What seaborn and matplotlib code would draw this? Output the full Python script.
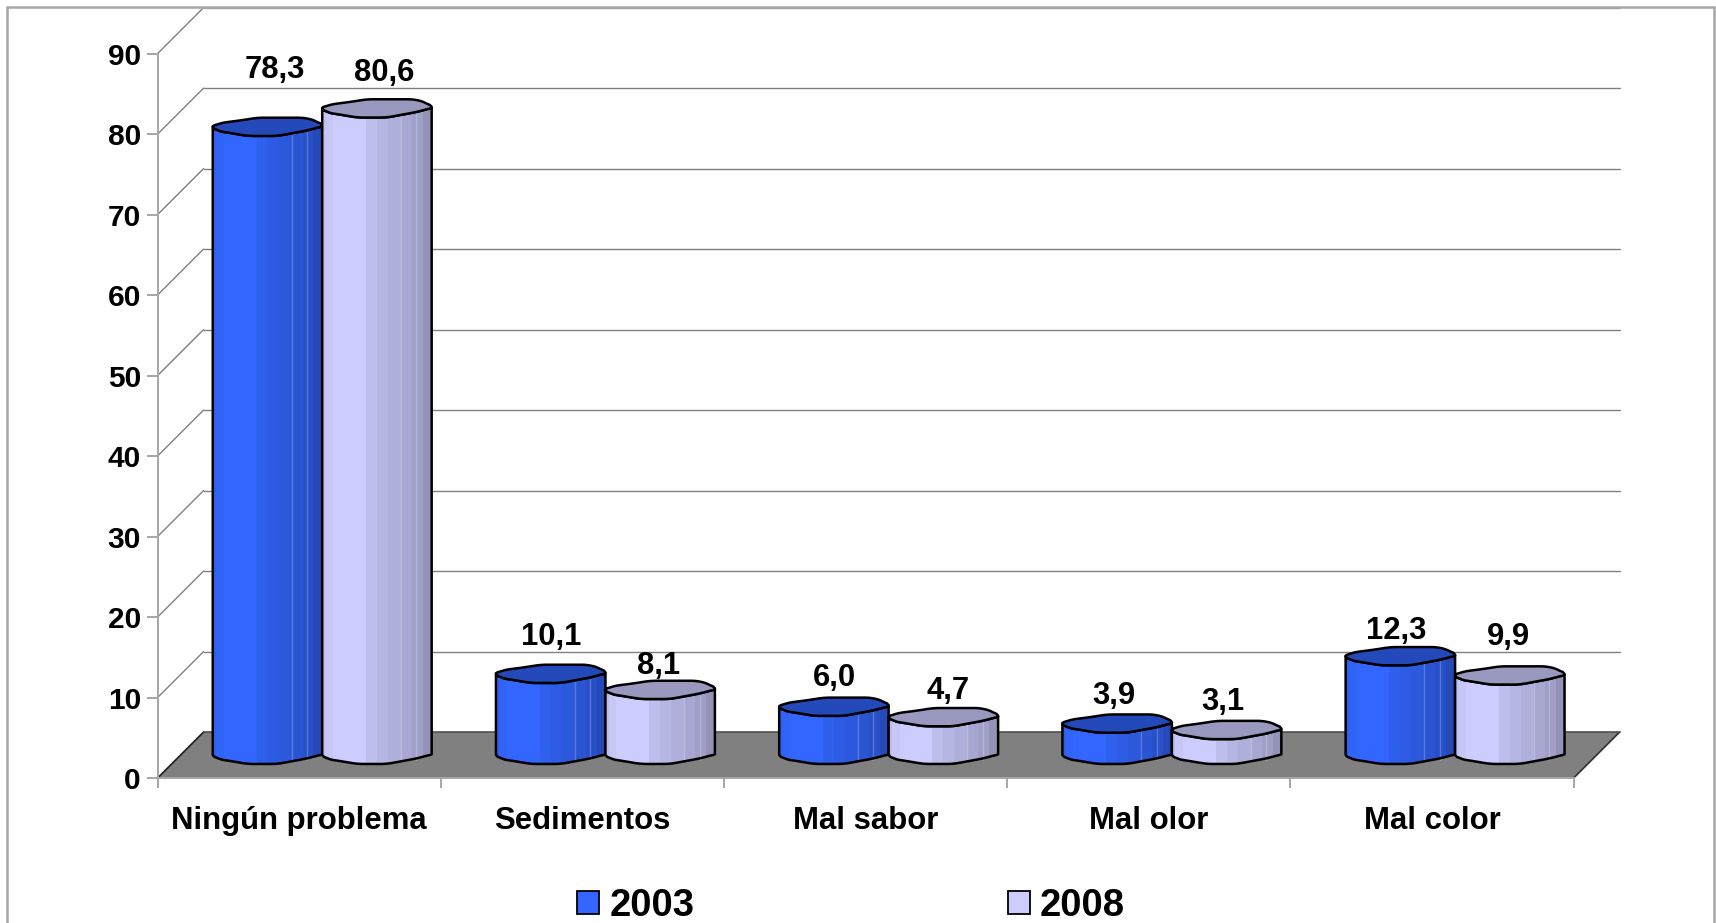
import numpy as np
import pandas as pd
import matplotlib
matplotlib.use("Agg")
import matplotlib.pyplot as plt
from matplotlib.patches import Patch, PathPatch, Polygon, Rectangle
from matplotlib.path import Path
from matplotlib.colors import to_rgb
import seaborn as sns

# ---- data ----
categories = ["Ningún problema", "Sedimentos", "Mal sabor", "Mal olor", "Mal color"]
values_2003 = [78.3, 10.1, 6.0, 3.9, 12.3]
values_2008 = [80.6, 8.1, 4.7, 3.1, 9.9]
series_names = ["2003", "2008"]
y_ticks = [0, 10, 20, 30, 40, 50, 60, 70, 80, 90]

# ---- styles ----
COL = {"2003": "#3366FF", "2008": "#CCCCFF"}
TOP = {"2003": "#2449BA", "2008": "#9999BF"}
# label offsets from each bar top centre, pixels (dx, dy)
label_dx = {"2003": [7, 0, 1, -3, -4], "2008": [7, -2, 5, -4, -1]}
label_dy = {"2003": [57, 37, 29, 28, 25], "2008": [36, 24, 26, 28, 39]}
# cylinder rim shape: fraction of width, pixel offset from centre line
rim_front_u = np.array([0, .04, .16, .32, .59, .87, 1.0])
rim_front_v = np.array([0, -4, -6, -9, -9, -3.3, .7])
rim_back_u = np.array([0, .07, .26, .41, .84, .95, 1.0])
rim_back_v = np.array([.7, 4, 6.7, 9.3, 9.3, 6, 1.7])
band_edges = np.array([0, .03, .1, .4, .5, .6, .72, .82, .92, 1.0])
band_shade = np.array([.93, .97, 1.0, .93, .89, .86, .82, .78, .72])

W, H, DPI = 1716, 923, 100
L, R, Y0, Y90 = 157.6, 1573.7, 778.0, 53.6
DEPTH = 46.0
GREY = "#808080"

sns.set_theme(style="white")
plt.rcParams["font.family"] = ["Liberation Sans", "DejaVu Sans"]
plt.rcParams["font.weight"] = "bold"

fig = plt.figure(figsize=(W / DPI, H / DPI), dpi=DPI, facecolor="white")
rect = [L / W, (H - Y0) / H, (R - L) / W, (Y0 - Y90) / H]
ax = fig.add_axes(rect)
ax_b = fig.add_axes([rect[0] + DEPTH / 2 / W, rect[1] + DEPTH / 2 / H, rect[2], rect[3] * .9965])
ax_b.patch.set_alpha(0)

# outer frame
fig.add_artist(Rectangle((7 / W, -5 / H), (W - 9) / W, (H - 2) / H, transform=fig.transFigure,
                         fill=False, ec="#A6A6A6", lw=1.8))

xlim = (-.5, len(categories) - .5)
ylim = (0, 90)
px_x = (R - L) / (xlim[1] - xlim[0])
px_y = (Y0 - Y90) / (ylim[1] - ylim[0])
dx, dy = DEPTH / px_x, DEPTH / px_y

# walls and floor
ax.set_xlim(*xlim)
ax.set_ylim(*ylim)
ax.add_patch(Polygon([(xlim[0], 0), (xlim[0] + dx, dy), (xlim[1] + dx, dy), (xlim[1], 0)],
                     closed=True, fc=GREY, ec="none", clip_on=False, zorder=1))
ax.plot([xlim[0], xlim[0] + dx], [0, dy], color="#202020", lw=1.2, clip_on=False, zorder=2)
ax.plot([xlim[1], xlim[1] + dx], [0, dy], color="#303030", lw=1.2, clip_on=False, zorder=2)
ax.plot([xlim[0] + dx, xlim[1] + dx], [dy, dy], color="#505050", lw=1.2, clip_on=False, zorder=2)
for t in y_ticks[1:]:
    ax.plot([xlim[0] + dx, xlim[1] + dx], [t + dy, t + dy], color=GREY if t < 90 else "#A0A0A0",
            lw=1.0, clip_on=False, zorder=.5)
    ax.plot([xlim[0], xlim[0] + dx], [t, t + dy], color=GREY, lw=1.0, clip_on=False, zorder=.5)

ax.set_xticks(range(len(categories)))
ax.set_xticklabels(categories, fontsize=22.4, fontweight="bold", color="black")
ax.set_yticks(y_ticks)
ax.set_yticklabels([str(t) for t in y_ticks], fontsize=21.5, fontweight="bold", color="black")
ax.set_xticks(np.arange(xlim[0], xlim[1] + .5, 1), minor=True)
ax.tick_params(axis="x", which="major", length=0, pad=20)
ax.tick_params(axis="x", which="minor", length=7, width=1.4, color="#A6A6A6", bottom=True)
ax.tick_params(axis="y", which="major", length=8, width=1.4, color="#A6A6A6", left=True, pad=4)
ax.patch.set_alpha(0)
for s in ["top", "right"]:
    ax.spines[s].set_visible(False)
for s in ["left", "bottom"]:
    ax.spines[s].set_color("#A6A6A6")
    ax.spines[s].set_linewidth(1.4)

# bars
df = pd.DataFrame({
    "categoria": categories * 2,
    "valor": values_2003 + values_2008,
    "serie": [series_names[0]] * 5 + [series_names[1]] * 5,
})
sns.barplot(data=df, x="categoria", y="valor", hue="serie", hue_order=series_names, palette=COL,
            width=.773, gap=0, saturation=1, legend=False, ax=ax_b, errorbar=None, linewidth=0)
ax_b.set_xlim(*xlim)
ax_b.set_ylim(*ylim)
ax_b.axis("off")


def smooth_rim(u, v, n=61, win=7):
    """Round off the rim outline so it reads as a soft, slightly lumpy curve."""
    uu = np.linspace(0, 1, n)
    vv = np.interp(uu, u, v)
    pad = win // 2
    padded = np.r_[np.full(pad, vv[0]), vv, np.full(pad, vv[-1])]
    out = np.convolve(padded, np.ones(win) / win, mode="valid")
    out[0], out[-1] = v[0], v[-1]
    return uu, out


fu, fv = smooth_rim(rim_front_u, rim_front_v)
bu, bv = smooth_rim(rim_back_u, rim_back_v)


def edge(x, w, y, u, v):
    return np.column_stack([x + u * w, y + v / px_y])


for name, cont in zip(series_names, ax_b.containers):
    base = np.array(to_rgb(COL[name]))
    z = 3 if name == series_names[0] else 4
    vals = values_2003 if name == series_names[0] else values_2008
    for i, (bar, val) in enumerate(zip(cont, vals)):
        x, w = bar.get_x(), bar.get_width()
        bar.set_zorder(z)
        front_top = edge(x, w, val, fu, fv)
        front_bot = edge(x, w, 0, fu, fv)
        back_top = edge(x, w, val, bu, bv)
        body = np.vstack([front_top, front_bot[::-1], front_top[:1]])
        body_path = Path(body, closed=True)
        # stepped shading of the cylinder side
        colors = (base[None, :] * band_shade[:, None])[None, :, :]
        mesh = ax_b.pcolormesh(x + band_edges * w, [-3, val + 3], colors, shading="flat",
                               zorder=z, antialiased=False)
        clip = PathPatch(body_path, transform=ax_b.transData, fc="none", ec="none", clip_on=False)
        ax_b.add_patch(clip)
        mesh.set_clip_path(clip)
        mesh.set_clip_box(None)
        # light vertical seams
        for s in (.72, .86):
            ax_b.plot([x + s * w] * 2, [-.6, val - .6], color="white", alpha=.22, lw=1,
                      zorder=z + .1, clip_on=False)
        ax_b.add_patch(PathPatch(body_path, fc="none", ec="black", lw=1.8, zorder=z + .2,
                                 joinstyle="round", clip_on=False))
        ax_b.add_patch(Polygon(np.vstack([front_top, back_top[::-1]]), closed=True, fc=TOP[name],
                               ec="black", lw=1.8, zorder=z + .3, joinstyle="round", clip_on=False))
        ax_b.annotate(f"{val:.1f}".replace(".", ","), (x + w / 2, val),
                      xytext=(label_dx[name][i] * 72 / DPI, label_dy[name][i] * 72 / DPI),
                      textcoords="offset points", ha="center", va="center", fontsize=22.3,
                      fontweight="bold", color="black", zorder=10, annotation_clip=False)
ax_b.set_xlim(*xlim)
ax_b.set_ylim(*ylim)

handles = [Patch(fc=COL[n], ec="black", lw=1.3) for n in series_names]
fig.legend(handles, series_names, loc="center", bbox_to_anchor=(851 / W, 1 - 906 / H), ncol=2,
           frameon=False, handlelength=.58, handleheight=.58, handletextpad=.26,
           columnspacing=8.2, borderpad=0, labelcolor="black",
           prop={"weight": "bold", "size": 27.5, "family": "Liberation Sans"})

fig.savefig("out.png", dpi=DPI, facecolor="white")
